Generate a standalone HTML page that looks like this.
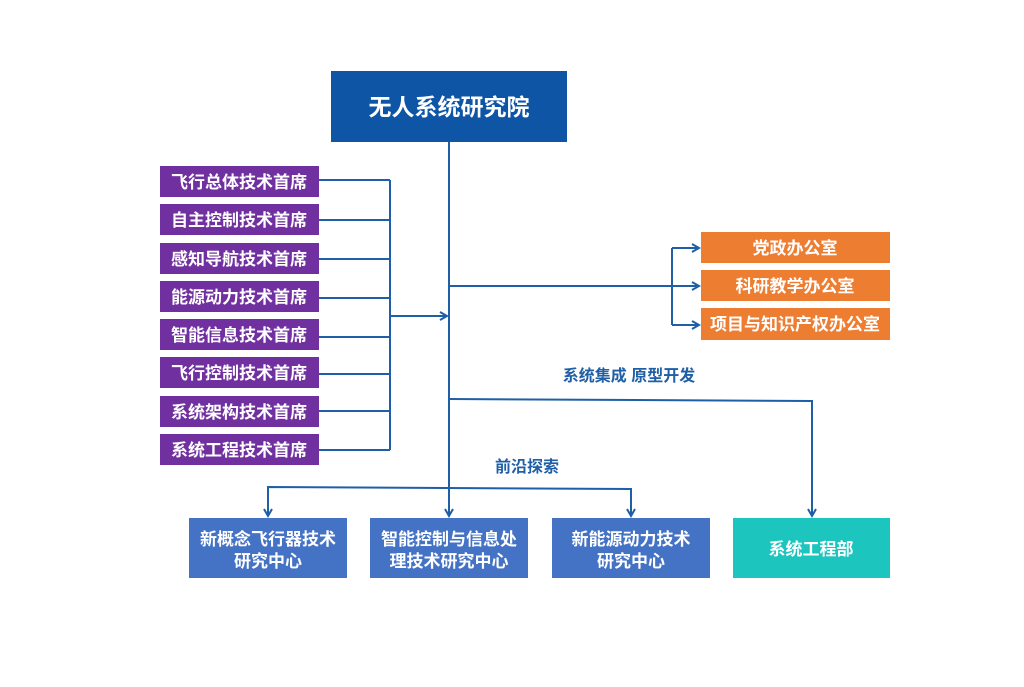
<!DOCTYPE html>
<html><head><meta charset="utf-8"><style>
html,body{margin:0;padding:0;background:#fff;}
svg{display:block;}
text{font-family:"Liberation Sans","Noto Sans CJK SC",sans-serif;font-weight:bold;}
</style></head><body>
<svg width="1024" height="687" viewBox="0 0 1024 687" xmlns="http://www.w3.org/2000/svg">
<defs>
<marker id="a" markerWidth="10" markerHeight="10" refX="8" refY="5" orient="auto" markerUnits="userSpaceOnUse">
<path d="M1,1 L8,5 L1,9" fill="none" stroke="#1F5FA6" stroke-width="2"/>
</marker>
</defs>
<rect x="331" y="71" width="236" height="71" fill="#0E55A6"/>
<text x="449" y="115" fill="#fff" font-size="23" text-anchor="middle">无人系统研究院</text>

<g fill="#7030A0">
<rect x="160" y="166" width="159" height="31"/>
<rect x="160" y="204" width="159" height="31"/>
<rect x="160" y="243" width="159" height="31"/>
<rect x="160" y="281" width="159" height="31"/>
<rect x="160" y="319" width="159" height="31"/>
<rect x="160" y="357" width="159" height="31"/>
<rect x="160" y="396" width="159" height="31"/>
<rect x="160" y="434" width="159" height="31"/>
</g>
<g fill="#fff" font-size="17" text-anchor="middle">
<text x="239" y="188">飞行总体技术首席</text>
<text x="239" y="226">自主控制技术首席</text>
<text x="239" y="265">感知导航技术首席</text>
<text x="239" y="303">能源动力技术首席</text>
<text x="239" y="341">智能信息技术首席</text>
<text x="239" y="379">飞行控制技术首席</text>
<text x="239" y="418">系统架构技术首席</text>
<text x="239" y="456">系统工程技术首席</text>
</g>

<g stroke="#1F5FA6" stroke-width="2" fill="none">
<path d="M319 180H390M319 220H390M319 259H390M319 298H390M319 337H390M319 374H390M319 411H390M319 450H390M390 180V450"/>
<path d="M390 316H447" marker-end="url(#a)"/>
<path d="M449 142V516" marker-end="url(#a)"/>
<path d="M449 286H672"/>
<path d="M672 248V325"/>
<path d="M672 248H699" marker-end="url(#a)"/>
<path d="M672 286H699" marker-end="url(#a)"/>
<path d="M672 325H699" marker-end="url(#a)"/>
<path d="M449 399L812 401V516" marker-end="url(#a)"/>
<path d="M268 516V487L631 489V516" marker-end="url(#a)"/>
<path d="M268 487V516" marker-end="url(#a)"/>
</g>

<g fill="#ED7D31">
<rect x="701" y="232" width="189" height="31"/>
<rect x="701" y="270" width="189" height="31"/>
<rect x="701" y="308" width="189" height="32"/>
</g>
<g fill="#fff" font-size="17" text-anchor="middle">
<text x="795" y="254">党政办公室</text>
<text x="795" y="292">科研教学办公室</text>
<text x="795" y="330">项目与知识产权办公室</text>
</g>

<text x="629" y="381" fill="#1F5FA6" font-size="16" text-anchor="middle">系统集成 原型开发</text>
<text x="527" y="472" fill="#1F5FA6" font-size="16" text-anchor="middle">前沿探索</text>

<g fill="#4472C4">
<rect x="189" y="518" width="158" height="60"/>
<rect x="370" y="518" width="158" height="60"/>
<rect x="552" y="518" width="158" height="60"/>
</g>
<rect x="733" y="518" width="157" height="60" fill="#1CC5BE"/>
<g fill="#fff" font-size="17" text-anchor="middle">
<text x="268" y="545">新概念飞行器技术</text>
<text x="268" y="567">研究中心</text>
<text x="449" y="545">智能控制与信息处</text>
<text x="449" y="567">理技术研究中心</text>
<text x="631" y="545">新能源动力技术</text>
<text x="631" y="567">研究中心</text>
<text x="811" y="555">系统工程部</text>
</g>
</svg>
</body></html>
